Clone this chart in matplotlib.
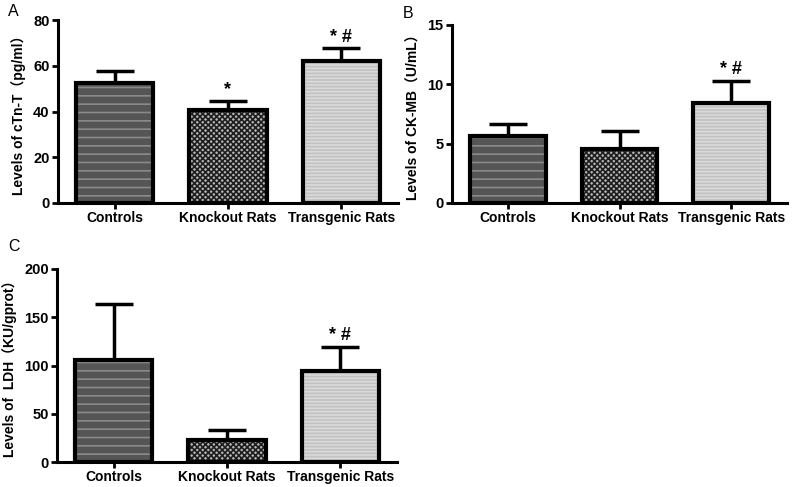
import matplotlib
matplotlib.use("Agg")
import matplotlib.pyplot as plt

plt.rcParams['font.family'] = ['Liberation Sans', 'Noto Sans CJK SC', 'DejaVu Sans']
plt.rcParams['hatch.linewidth'] = 1.2

categories = ["Controls", "Knockout Rats", "Transgenic Rats"]

ctnt_mean = [52.3, 40.6, 62.0]
ctnt_err = [5.4, 4.0, 5.6]
ctnt_marks = ["", "*", "* #"]

ckmb_mean = [5.65, 4.55, 8.43]
ckmb_err = [1.0, 1.5, 1.85]
ckmb_marks = ["", "", "* #"]

ldh_mean = [105.7, 22.8, 94.3]
ldh_err = [58.0, 10.5, 24.7]
ldh_marks = ["", "", "* #"]

W, H = 796, 487
fig = plt.figure(figsize=(W / 100, H / 100), dpi=100)


def rect(l, t, r, b):
    return [l / W, 1 - b / H, (r - l) / W, (b - t) / H]


fills = [
    dict(face="#555555", hatch="--", hcol="#8a8a8a"),
    dict(face="#b5b5b5", hatch="xxxxxx", hcol="#1e1e1e"),
    dict(face="#c2c2c2", hatch="-----", hcol="#dadada"),
]


def panel(box, means, errs, marks, ymax, ystep, ylabel, letter, letter_xy):
    ax = fig.add_axes(rect(*box))
    x = list(range(len(categories)))
    for i in x:
        f = fills[i]
        ax.bar(i, means[i], width=0.68, color=f["face"], hatch=f["hatch"],
               edgecolor=f["hcol"], linewidth=0, zorder=2)
        ax.bar(i, means[i], width=0.68, fill=False, edgecolor="black",
               linewidth=3, zorder=3)
        ax.errorbar(i, means[i], yerr=[[0], [errs[i]]], fmt="none",
                    ecolor="black", elinewidth=2.5, capsize=14, capthick=2.5,
                    zorder=1)
        if marks[i]:
            ax.annotate(marks[i], (i, means[i] + errs[i]), xytext=(0, 2),
                        textcoords="offset points", ha="center", va="bottom",
                        fontsize=13, fontweight="bold")
    ax.set_xlim(-0.5, 2.5)
    ax.set_ylim(0, ymax)
    ax.set_yticks(range(0, ymax + 1, ystep))
    ax.set_xticks(x)
    ax.set_xticklabels(categories, fontsize=10, fontweight="bold")
    for lab in ax.get_yticklabels():
        lab.set_fontweight("bold")
        lab.set_fontsize(10.5)
    ax.spines["top"].set_visible(False)
    ax.spines["right"].set_visible(False)
    for s in ("left", "bottom"):
        ax.spines[s].set_linewidth(2.2)
    ax.tick_params(axis="both", direction="out", length=4, width=2, pad=2)
    ax.set_ylabel(ylabel, fontsize=10, fontweight="bold", labelpad=5)
    fig.text(letter_xy[0] / W, 1 - letter_xy[1] / H, letter, fontsize=11.5,
             ha="left", va="center")
    return ax


panel((58, 20, 398, 203), ctnt_mean, ctnt_err, ctnt_marks, 80, 20,
      "Levels of cTn-T（pg/ml）", "A", (8, 12))
panel((452, 25, 787, 203), ckmb_mean, ckmb_err, ckmb_marks, 15, 5,
      "Levels of CK-MB（U/mL）", "B", (403, 13))
panel((57, 269, 397, 462), ldh_mean, ldh_err, ldh_marks, 200, 50,
      "Levels of  LDH（KU/gprot）", "C", (8, 246))

fig.savefig("out.png", dpi=100)
